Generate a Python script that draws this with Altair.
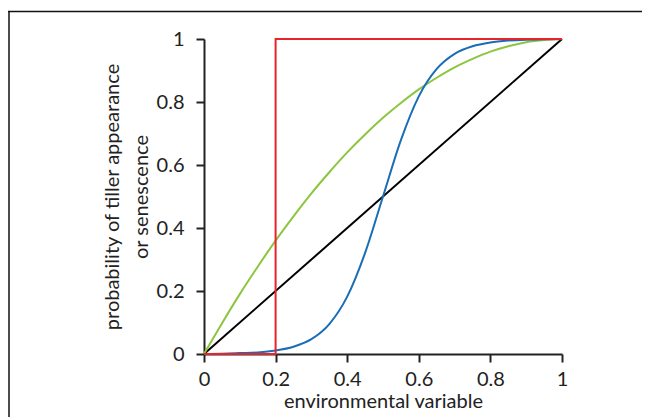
import altair as alt
import pandas as pd

# Tick values
x_ticks = [0, 0.2, 0.4, 0.6, 0.8, 1]
y_ticks = [0, 0.2, 0.4, 0.6, 0.8, 1]

# Black: linear response
linear_x = [0, 1]
linear_y = [0, 1]

# Red: threshold (step) response
step_x = [0, 0.2, 0.2, 1]
step_y = [0, 0, 1, 1]

# Shared x positions for the smooth curves
curve_x = [0, 0.05, 0.1, 0.15, 0.2, 0.25, 0.3, 0.35, 0.4, 0.45, 0.5,
           0.55, 0.6, 0.65, 0.7, 0.75, 0.8, 0.85, 0.9, 0.95, 1]
# Green: saturating response
green_y = [0, 0.097, 0.19, 0.277, 0.36, 0.437, 0.51, 0.577, 0.64, 0.697, 0.75,
           0.797, 0.84, 0.877, 0.91, 0.937, 0.96, 0.977, 0.99, 0.997, 1]
# Blue: sigmoid response
blue_y = [0, 0.001, 0.003, 0.005, 0.011, 0.023, 0.047, 0.095, 0.182, 0.321, 0.5,
          0.679, 0.818, 0.905, 0.953, 0.977, 0.989, 0.995, 0.998, 0.999, 1]

W, H = 358, 315
PAD_L, PAD_T, PAD_R, PAD_B = 196, 31, 80, 63

xs = alt.Scale(domain=[0, 1], nice=False)
ys = alt.Scale(domain=[0, 1], nice=False)

X = alt.X("x:Q", scale=xs,
          axis=alt.Axis(values=x_ticks, format="~g", title="environmental variable",
                        labelPadding=7, titlePadding=2, labelFlush=False))
Y = alt.Y("y:Q", scale=ys,
          axis=alt.Axis(values=y_ticks, format="~g",
                        title=["probability of tiller appearance", "or senescence"],
                        labelPadding=12, titlePadding=5, titleLineHeight=29,
                        labelFlush=False))

black = alt.Chart(pd.DataFrame({"x": linear_x, "y": linear_y})).mark_line(
    color="#000000", strokeWidth=2).encode(x=X, y=Y)

green = alt.Chart(pd.DataFrame({"x": curve_x, "y": green_y})).mark_line(
    color="#8cc63e", strokeWidth=2, interpolate="monotone").encode(x=X, y=Y)

blue = alt.Chart(pd.DataFrame({"x": curve_x, "y": blue_y})).mark_line(
    color="#1a6db5", strokeWidth=2, interpolate="monotone").encode(x=X, y=Y)

red = alt.Chart(pd.DataFrame({"x": step_x, "y": step_y,
                              "i": list(range(len(step_x)))})).mark_line(
    color="#e8242a", strokeWidth=2).encode(x=X, y=Y, order="i:Q")

frame_top = alt.Chart(pd.DataFrame({"k": [0]})).mark_rule(
    color="#111111", strokeWidth=1.5).encode(
    x=alt.value(-PAD_L), x2=alt.value(W + PAD_R), y=alt.value(-PAD_T + 3.5))
frame_left = alt.Chart(pd.DataFrame({"k": [0]})).mark_rule(
    color="#111111", strokeWidth=1.5).encode(
    x=alt.value(-PAD_L + 1), y=alt.value(-PAD_T + 3), y2=alt.value(H + PAD_B))

chart = alt.layer(black, green, blue, red, frame_top, frame_left).properties(
    width=W, height=H,
    autosize=alt.AutoSizeParams(type="none"),
    padding={"left": PAD_L, "top": PAD_T, "right": PAD_R, "bottom": PAD_B},
).configure_axis(
    grid=False,
    domainColor="#222222", domainWidth=2,
    tickColor="#222222", tickWidth=2, tickSize=8,
    labelFont="Lato", labelFontSize=20, labelColor="#222222",
    titleFont="Lato", titleFontSize=20, titleFontWeight="normal", titleColor="#222222",
).configure_view(stroke=None)

chart.save("out.html", embed_options={"renderer": "svg", "actions": False})
